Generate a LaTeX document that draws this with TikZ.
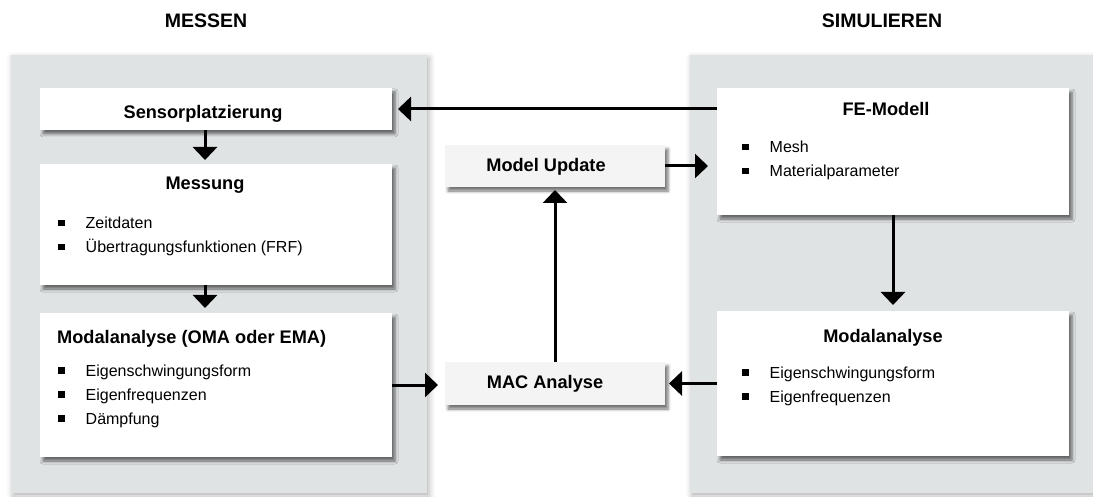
\documentclass[tikz,border=0pt]{standalone}
\usepackage{fontspec}
\setmainfont{Liberation Sans}
\usetikzlibrary{arrows.meta, positioning, shadows.blur}
\definecolor{panelgrey}{RGB}{224,227,228}
\definecolor{boxgrey}{RGB}{244,244,244}
\newcommand{\bul}{\rule[2.5pt]{6.5pt}{6.5pt}}

\begin{document}
\begin{tikzpicture}[x=1pt, y=-1pt,
	panel/.style={fill=panelgrey, inner sep=0pt, outer sep=0pt, blur shadow={shadow xshift=2pt, shadow yshift=-3pt, shadow blur radius=6pt, shadow opacity=30}},
	whitebox/.style={fill=white, minimum width=352pt, inner sep=0pt, outer sep=0pt, blur shadow={shadow xshift=3pt, shadow yshift=-4pt, shadow blur radius=3pt, shadow opacity=55}},
	greybox/.style={whitebox, fill=boxgrey, minimum width=220pt},
	heading/.style={font=\bfseries\fontsize{19.5}{23}\selectfont, inner sep=0pt},
	boxtitle/.style={font=\bfseries\fontsize{18.2}{22}\selectfont, anchor=base, inner sep=0pt},
	items/.style={font=\fontsize{16}{24}\selectfont, anchor=base west, inner sep=0pt},
	flow/.style={-{Triangle[width=24pt, length=13pt]}, line width=3pt}]
	
	\useasboundingbox (0,0) rectangle (1093,497);
	
	% Panels
	\node[panel, minimum width=416pt, minimum height=438pt] (messen) at (219,274) {};
	\node[panel, minimum width=410pt, minimum height=438pt] (simulieren) at (895,274) {};
	\node[heading] (messenhead) at (206,21) {MESSEN};
	\node[heading] (simhead) at (882,21) {SIMULIEREN};
	
	% Boxes
	\node[whitebox, minimum height=42pt] (sensor) at (216,109) {};
	\node[whitebox, minimum height=121pt] (messung) at (216,224.5) {};
	\node[whitebox, minimum height=144pt] (modalL) at (216,385) {};
	\node[whitebox, minimum height=127pt] (fe) at (893,151.5) {};
	\node[whitebox, minimum height=145pt] (modalR) at (893,383.5) {};
	\node[greybox, minimum height=42pt] (update) at (555,166) {};
	\node[greybox, minimum height=43pt] (mac) at (555,383.5) {};
	
	% Titles
	\node[boxtitle] (sensortitle) at (203,119) {Sensorplatzierung};
	\node[boxtitle] (messungtitle) at (205,190) {Messung};
	\node[boxtitle, anchor=base west] (modalLtitle) at (57,343) {Modalanalyse (OMA oder EMA)};
	\node[boxtitle] (fetitle) at (886,116) {FE-Modell};
	\node[boxtitle] (modalRtitle) at (883,342) {Modalanalyse};
	\node[boxtitle] (updatetitle) at (546,172) {Model Update};
	\node[boxtitle] (mactitle) at (545,388) {MAC Analyse};
	
	% Lists
	\node[items] (messunglist) at (58,229) {\begin{tabular}[t]{@{}l@{\hspace{21pt}}l@{}}
		\bul & Zeitdaten\\
		\bul & Übertragungsfunktionen (FRF)
	\end{tabular}};
	\node[items] (modalLlist) at (58,376) {\begin{tabular}[t]{@{}l@{\hspace{21pt}}l@{}}
		\bul & Eigenschwingungsform\\
		\bul & Eigenfrequenzen\\
		\bul & Dämpfung
	\end{tabular}};
	\node[items] (felist) at (742,153) {\begin{tabular}[t]{@{}l@{\hspace{21pt}}l@{}}
		\bul & Mesh\\
		\bul & Materialparameter
	\end{tabular}};
	\node[items] (modalRlist) at (742,378) {\begin{tabular}[t]{@{}l@{\hspace{21pt}}l@{}}
		\bul & Eigenschwingungsform\\
		\bul & Eigenfrequenzen
	\end{tabular}};
	
	% Edges
	\draw[flow, shorten >=4pt] (sensor.south -| messungtitle) -- (messung.north -| messungtitle);
	\draw[flow, shorten >=5pt] (messung.south -| messungtitle) -- (modalL.north -| messungtitle);
	\draw[flow, shorten >=6pt] (sensor.east -| fe.west) -- (sensor.east);
	\draw[flow, shorten >=9pt] (update.east) -- (update.east -| fe.west);
	\draw[flow, shorten >=3pt] (mac.north) -- (update.south);
	\draw[flow, shorten >=7pt] (modalL.east) -- (modalL.east -| mac.west);
	\draw[flow, shorten >=4pt] (modalR.west) -- (modalR.west -| mac.east);
	\draw[flow, shorten >=6pt] (fe.south) -- (modalR.north);
	
\end{tikzpicture}
\end{document}
